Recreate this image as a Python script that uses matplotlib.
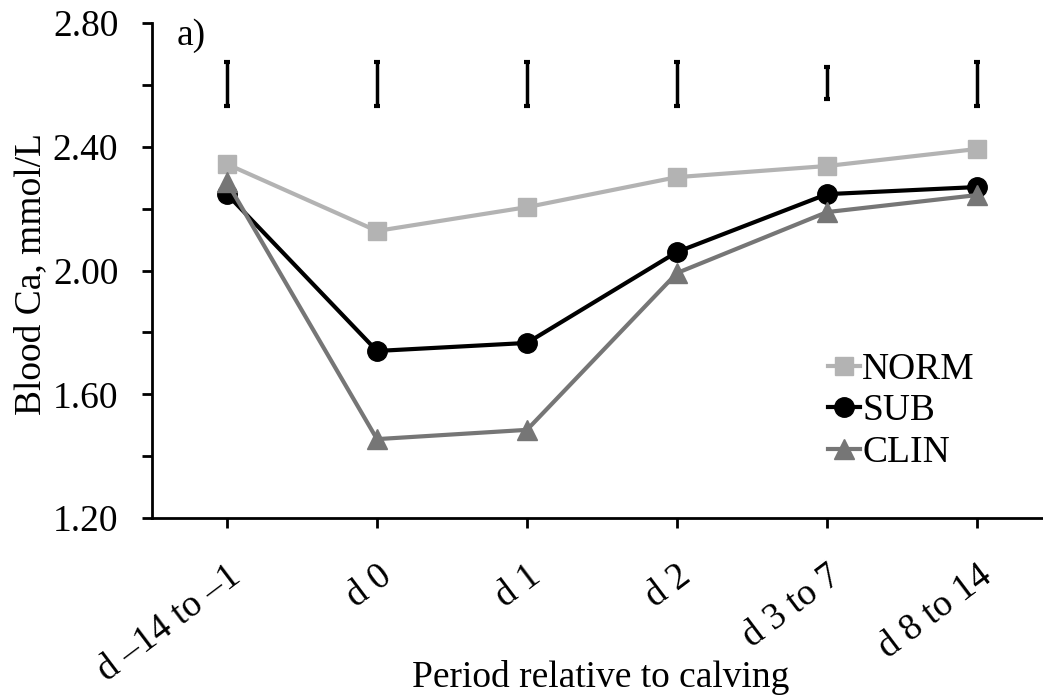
import matplotlib
matplotlib.use("Agg")
import matplotlib.pyplot as plt
from matplotlib.ticker import MultipleLocator, FormatStrFormatter

plt.rcParams['font.family'] = ['Liberation Serif', 'DejaVu Serif']

periods = ["d \u201314 to \u20131", "d 0", "d 1", "d 2", "d 3 to 7", "d 8 to 14"]
norm = [2.344, 2.128, 2.205, 2.302, 2.338, 2.393]
sub = [2.247, 1.740, 1.766, 2.060, 2.247, 2.270]
clin = [2.286, 1.455, 1.485, 1.992, 2.189, 2.244]
# pooled SEM bars shown above each period
sem_center = [2.603, 2.603, 2.603, 2.603, 2.606, 2.603]
sem_half = [0.071, 0.071, 0.071, 0.071, 0.052, 0.071]

FS = 27

fig = plt.figure(figsize=(10.43, 7.00), dpi=100)
ax = fig.add_axes([0.1457, 0.26, 0.8543, 0.707])

x = list(range(len(periods)))
ax.plot(x, norm, color="#b3b3b3", lw=3, marker="s", ms=12.5, label="NORM")
ax.plot(x, sub, color="black", lw=3, marker="o", ms=14, label="SUB")
ax.plot(x, clin, color="#767676", lw=3, marker="^", ms=14, label="CLIN")

ax.errorbar(x, sem_center, yerr=sem_half, fmt="none", ecolor="black",
            elinewidth=2.5, capsize=2, capthick=3)

ax.set_xlim(-0.5, 5.44)
ax.yaxis.set_major_locator(MultipleLocator(0.4))
ax.yaxis.set_minor_locator(MultipleLocator(0.2))
ax.set_ylim(1.20, 2.80)
ax.yaxis.set_major_formatter(FormatStrFormatter("%.2f"))
ax.set_xticks(x)
ax.set_xticklabels(periods, rotation=37, ha="right", va="top",
                   rotation_mode="anchor")

for side in ("top", "right"):
    ax.spines[side].set_visible(False)
for side in ("left", "bottom"):
    ax.spines[side].set_linewidth(2)

ax.tick_params(axis="both", which="both", direction="out", width=2, length=7.2,
               labelsize=FS, colors="black")
ax.tick_params(axis="y", which="both", pad=17)
ax.tick_params(axis="x", pad=22)

ax.set_ylabel("Blood Ca, mmol/L", fontsize=FS)
ax.yaxis.set_label_coords(-0.1167, 0.493)
ax.set_xlabel("Period relative to calving", fontsize=FS)
ax.xaxis.label.set_va("baseline")
ax.xaxis.set_label_coords(0.504, -0.341)

ax.text(0.028, 1.01, "a)", transform=ax.transAxes, fontsize=FS,
        va="top", ha="left")

leg = ax.legend(loc="upper left", bbox_to_anchor=(0.759, 0.334), frameon=False,
                fontsize=FS, handlelength=0.85, handletextpad=0.05,
                labelspacing=0.18, borderpad=0, borderaxespad=0)

fig.savefig("out.png", dpi=100)
